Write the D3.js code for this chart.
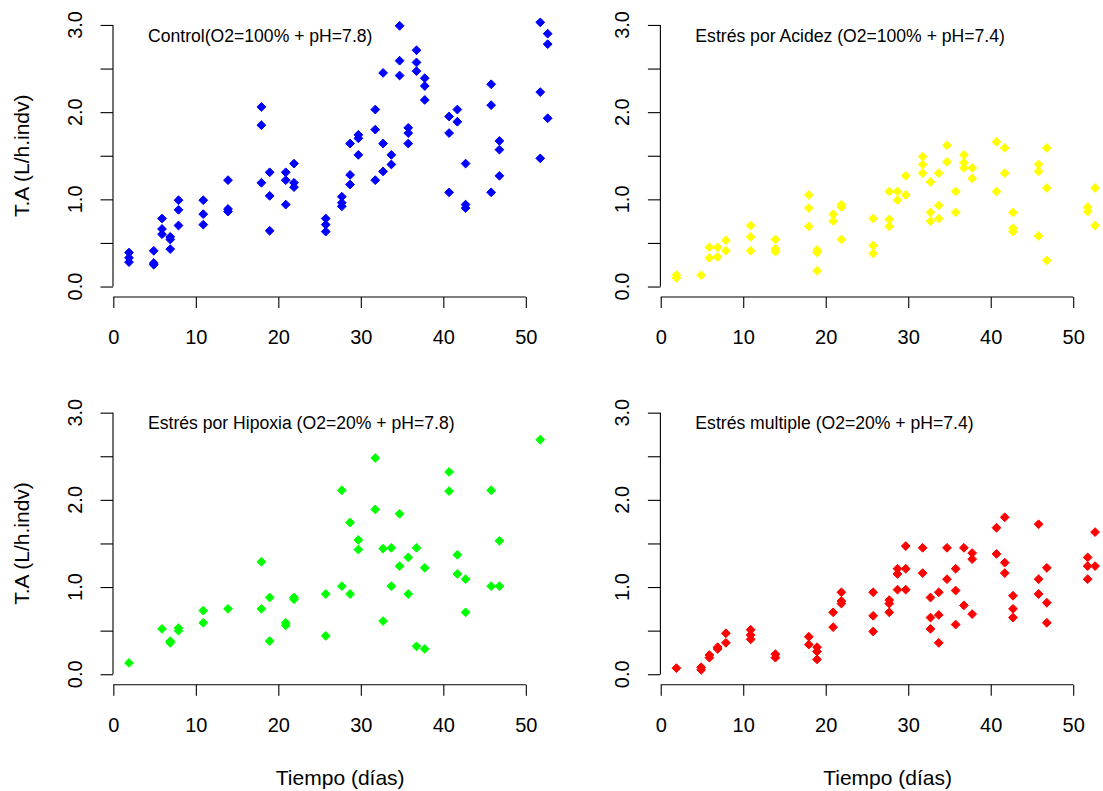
<!DOCTYPE html>
<html>
<head>
<meta charset="utf-8">
<script src="https://cdn.jsdelivr.net/npm/d3@7"></script>
<style>
  body { margin: 0; background: #fff; }
  svg { display: block; font-family: "Liberation Sans", Arial, sans-serif; }
</style>
</head>
<body>
<svg id="chart" width="1103" height="791"></svg>
<script>
// [day, T.A] pairs
const control = [
  [1.9,0.39],[1.9,0.33],[1.9,0.28],[4.9,0.41],[4.9,0.27],[4.9,0.25],
  [5.9,0.78],[5.9,0.66],[5.9,0.60],[6.9,0.57],[6.9,0.54],[6.9,0.43],
  [7.9,0.99],[7.9,0.88],[7.9,0.70],[10.9,0.99],[10.9,0.83],[10.9,0.71],
  [13.9,1.22],[13.9,0.89],[13.9,0.86],[17.95,2.06],[17.95,1.85],[17.95,1.19],
  [18.95,1.31],[18.95,1.04],[18.95,0.64],[20.9,1.31],[20.9,1.22],[20.9,0.94],
  [21.9,1.41],[21.9,1.19],[21.9,1.14],[25.75,0.78],[25.75,0.71],[25.75,0.63],
  [27.7,1.03],[27.7,0.96],[27.7,0.92],[28.7,1.64],[28.7,1.28],[28.7,1.17],
  [29.7,1.74],[29.7,1.70],[29.7,1.51],[31.75,2.03],[31.75,1.80],[31.75,1.22],
  [32.7,2.45],[32.7,1.64],[32.7,1.32],[33.7,1.51],[33.7,1.40],
  [34.7,2.99],[34.7,2.59],[34.7,2.42],[35.75,1.82],[35.75,1.76],[35.75,1.64],
  [36.75,2.71],[36.75,2.57],[36.75,2.47],[37.75,2.39],[37.75,2.30],[37.75,2.14],
  [40.7,1.95],[40.7,1.76],[40.7,1.08],[41.7,2.03],[41.7,1.89],
  [42.7,1.41],[42.7,0.94],[42.7,0.90],[45.8,2.32],[45.8,2.08],[45.8,1.08],
  [46.8,1.67],[46.8,1.57],[46.8,1.27],[51.75,3.03],[51.75,2.23],[51.75,1.47],
  [52.65,2.90],[52.65,2.78],[52.65,1.93]
];
const acidez = [
  [1.9,0.13],[1.9,0.10],[4.9,0.13],[5.9,0.45],[5.9,0.33],[6.9,0.45],[6.9,0.34],
  [7.9,0.53],[7.9,0.41],[10.9,0.70],[10.9,0.57],[10.9,0.41],
  [13.9,0.54],[13.9,0.43],[13.9,0.40],[17.95,1.05],[17.95,0.90],[17.95,0.69],
  [18.95,0.42],[18.95,0.39],[18.95,0.18],[20.9,0.83],[20.9,0.75],
  [21.9,0.94],[21.9,0.91],[21.9,0.54],[25.75,0.78],[25.75,0.47],[25.75,0.38],
  [27.7,1.09],[27.7,0.77],[27.7,0.69],[28.7,1.09],[28.7,0.99],[29.7,1.27],[29.7,1.05],
  [31.75,1.49],[31.75,1.40],[31.75,1.30],[32.7,1.20],[32.7,0.85],[32.7,0.75],
  [33.7,1.30],[33.7,0.93],[33.7,0.78],[34.7,1.62],[34.7,1.43],[35.75,1.09],[35.75,0.85],
  [36.75,1.51],[36.75,1.42],[36.75,1.36],[37.75,1.36],[37.75,1.24],
  [40.7,1.66],[40.7,1.09],[41.7,1.59],[41.7,1.30],[42.7,0.85],[42.7,0.67],[42.7,0.63],
  [45.8,1.40],[45.8,1.32],[45.8,0.58],[46.8,1.59],[46.8,1.13],[46.8,0.30],
  [51.75,0.91],[51.75,0.86],[52.65,1.13],[52.65,0.70]
];
const hipoxia = [
  [1.9,0.13],[5.9,0.52],[6.9,0.38],[6.9,0.36],[7.9,0.53],[7.9,0.50],
  [10.9,0.73],[10.9,0.59],[13.9,0.75],[17.95,1.29],[17.95,0.75],
  [18.95,0.88],[18.95,0.38],[20.9,0.59],[20.9,0.56],[21.9,0.88],[21.9,0.86],
  [25.75,0.92],[25.75,0.44],[27.7,2.11],[27.7,1.01],[28.7,1.74],[28.7,0.92],
  [29.7,1.54],[29.7,1.43],[31.75,2.48],[31.75,1.89],[32.7,1.44],[32.7,0.61],
  [33.7,1.45],[33.7,1.01],[34.7,1.84],[34.7,1.24],[35.75,1.34],[35.75,0.92],
  [36.75,1.45],[36.75,0.32],[37.75,1.22],[37.75,0.29],[40.7,2.32],[40.7,2.10],
  [41.7,1.37],[41.7,1.15],[42.7,1.09],[42.7,0.71],[45.8,2.11],[45.8,1.01],
  [46.8,1.53],[46.8,1.01],[51.75,2.69]
];
const multiple = [
  [1.9,0.07],[4.9,0.08],[4.9,0.05],[5.9,0.22],[5.9,0.19],[6.9,0.31],[6.9,0.29],
  [7.9,0.47],[7.9,0.36],[10.9,0.51],[10.9,0.45],[10.9,0.40],[13.9,0.23],[13.9,0.19],
  [17.95,0.43],[17.95,0.34],[18.95,0.31],[18.95,0.26],[18.95,0.17],
  [20.9,0.71],[20.9,0.54],[21.9,0.94],[21.9,0.84],[21.9,0.81],
  [25.75,0.94],[25.75,0.67],[25.75,0.49],[27.7,0.85],[27.7,0.81],[27.7,0.71],
  [28.7,1.21],[28.7,1.15],[28.7,0.97],[29.7,1.47],[29.7,1.21],[29.7,0.97],
  [31.75,1.45],[31.75,1.16],[32.7,0.88],[32.7,0.65],[32.7,0.52],
  [33.7,0.94],[33.7,0.68],[33.7,0.36],[34.7,1.45],[34.7,1.09],
  [35.75,1.21],[35.75,0.96],[35.75,0.57],[36.75,1.45],[36.75,0.79],
  [37.75,1.39],[37.75,1.32],[37.75,0.69],[40.7,1.68],[40.7,1.38],
  [41.7,1.80],[41.7,1.28],[41.7,1.16],[42.7,0.90],[42.7,0.75],[42.7,0.65],
  [45.8,1.72],[45.8,1.09],[45.8,0.92],[46.8,1.22],[46.8,0.82],[46.8,0.59],
  [51.75,1.34],[51.75,1.24],[51.75,1.09],[52.65,1.63],[52.65,1.24]
];

const titles = [
  "Control(O2=100% + pH=7.8)",
  "Estrés por Acidez (O2=100% + pH=7.4)",
  "Estrés por Hipoxia (O2=20% + pH=7.8)",
  "Estrés multiple (O2=20% + pH=7.4)"
];
const colors = ["#0000ff", "#ffff00", "#00ff00", "#ff0000"];
const xTicks = [0, 10, 20, 30, 40, 50];
const yTicks = [0, 0.5, 1, 1.5, 2, 2.5, 3];
const yLabels = [0, 1, 2, 3];

const svg = d3.select("#chart");

// plot regions (R mfrow 2x2)
const cols = [113.0, 660.4];
const rows = [14.5, 402.2];
const pw = 454.4, ph = 282.5;

const x = d3.scaleLinear().domain([-0.04, 55.04]).range([0, pw]);
const y = d3.scaleLinear().domain([-0.12, 3.12]).range([ph, 0]);

const series = [control, acidez, hipoxia, multiple];
const r = 4.4;
const diamond = `M0,${-r}L${r},0L0,${r}L${-r},0Z`;

series.forEach((data, i) => {
  const col = i % 2, row = Math.floor(i / 2);
  const g = svg.append("g").attr("transform", `translate(${cols[col]}, ${rows[row]})`);

  // x axis
  const xAxis = g.append("g")
    .attr("transform", `translate(0, ${ph})`)
    .call(d3.axisBottom(x).tickValues(xTicks).tickSize(11).tickSizeOuter(0));
  xAxis.select(".domain").attr("d", `M${x(0)},0H${x(50)}`);
  xAxis.selectAll("text").attr("y", 47).attr("dy", null)
    .attr("font-size", 20).attr("font-family", null).attr("fill", "#000");
  xAxis.selectAll("line, path").attr("stroke", "#000").attr("stroke-width", 1.1);

  // y axis
  const yAxis = g.append("g")
    .call(d3.axisLeft(y).tickValues(yTicks).tickSize(12.5).tickSizeOuter(0).tickFormat(""));
  yAxis.select(".domain").attr("d", `M0,${y(0)}V${y(3)}`);
  yAxis.selectAll("line, path").attr("stroke", "#000").attr("stroke-width", 1.1);
  yAxis.selectAll(".lab")
    .data(yLabels)
    .join("text")
    .attr("class", "lab")
    .attr("transform", (d) => `translate(-31, ${y(d)}) rotate(-90)`)
    .attr("text-anchor", "middle")
    .attr("font-size", 20)
    .attr("fill", "#000")
    .text((d) => d3.format(".1f")(d));

  // points, pch 18
  g.append("g")
    .selectAll("path")
    .data(data)
    .join("path")
    .attr("d", diamond)
    .attr("transform", (d) => `translate(${x(d[0])}, ${y(d[1])})`)
    .attr("fill", colors[i])
    .attr("stroke", colors[i])
    .attr("stroke-width", 1)
    .attr("stroke-linejoin", "round");

  // panel label
  g.append("text")
    .attr("x", x(4.2))
    .attr("y", y(2.81))
    .attr("font-size", 17.6)
    .attr("fill", "#000")
    .text(titles[i]);

  if (col === 0) {
    g.append("text")
      .attr("transform", `translate(-84, ${ph / 2}) rotate(-90)`)
      .attr("text-anchor", "middle")
      .attr("font-size", 21)
      .attr("fill", "#000")
      .text("T.A (L/h.indv)");
  }
  if (row === 1) {
    g.append("text")
      .attr("x", pw / 2)
      .attr("y", ph + 100)
      .attr("text-anchor", "middle")
      .attr("font-size", 21)
      .attr("fill", "#000")
      .text("Tiempo (días)");
  }
});
</script>
</body>
</html>
